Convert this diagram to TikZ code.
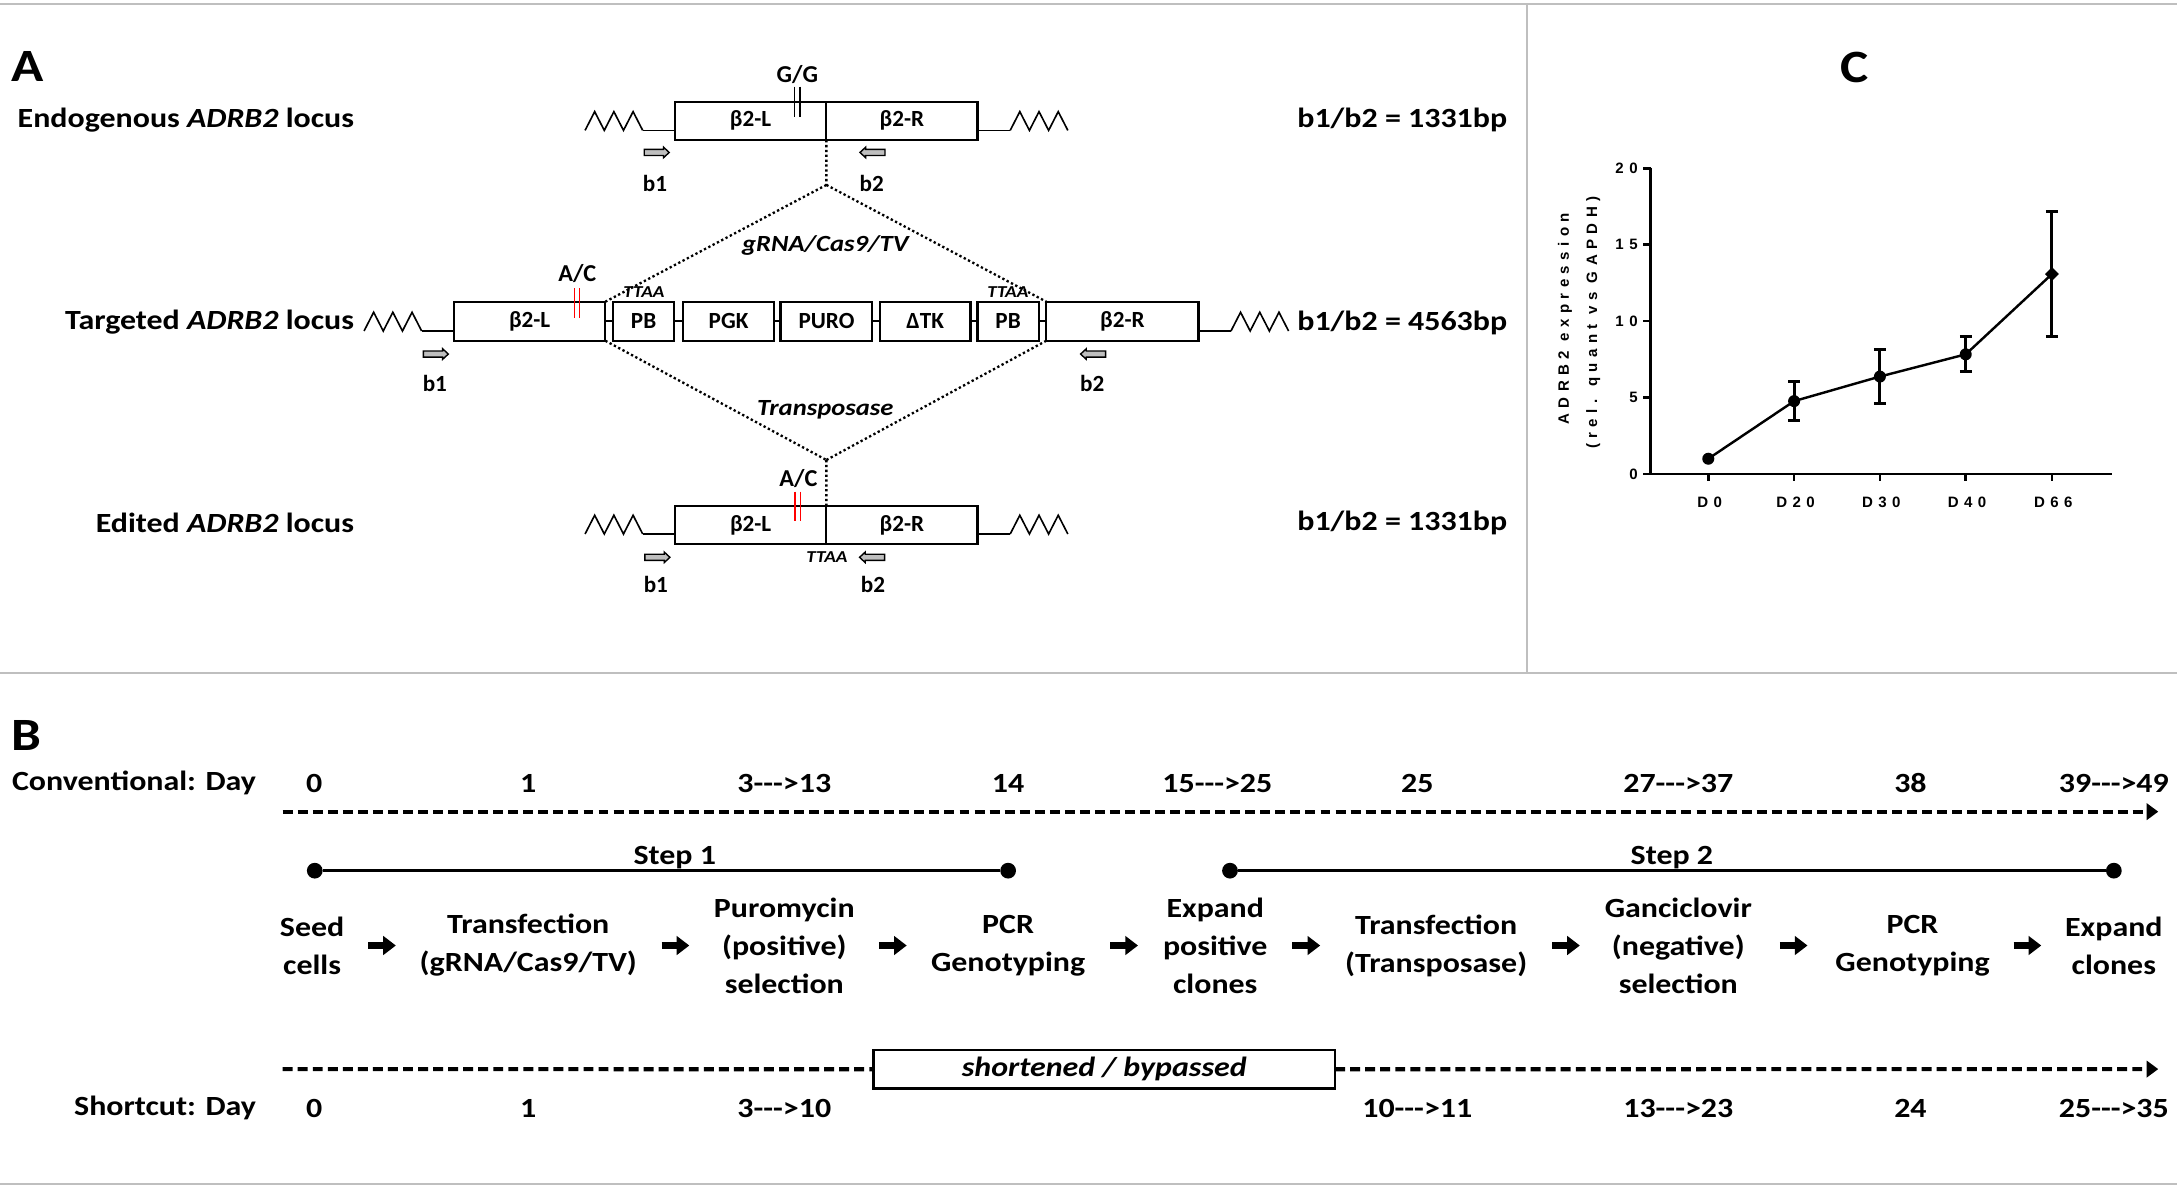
\documentclass[tikz,border=0pt]{standalone}
\usepackage{fontspec}
\setmainfont{Carlito}[FakeStretch=1.15]
\newfontfamily\boxfont{Carlito}
\newfontfamily\plotfont{Liberation Sans}[LetterSpace=36]
\usetikzlibrary{arrows.meta,calc,shapes.geometric}
\newcommand{\geneBox}[6]{\node[gb, minimum width={(#4-#2)*0.6pt}, minimum height={(#5-#3)*0.6pt}] (#1) at ({(#2+#4)/2},{(#3+#5)/2}) {#6};}
\tikzset{
  zig/.pic={\draw[line width=0.7pt, line join=miter] (0,0) -- (6.92,-13.5) -- (13.83,0) -- (20.75,-13.5) -- (27.67,0) -- (34.58,-13.5) -- (41.5,0);},
  primr/.pic={\draw[line width=0.6pt, fill=gray!50] (-9,-2.2) -- (4.9,-2.2) -- (4.9,-3.8) -- (9,0) -- (4.9,3.8) -- (4.9,2.2) -- (-9,2.2) -- cycle;},
  priml/.pic={\draw[line width=0.6pt, fill=gray!50] (9,-2.2) -- (-4.9,-2.2) -- (-4.9,-3.8) -- (-9,0) -- (-4.9,3.8) -- (-4.9,2.2) -- (9,2.2) -- cycle;}
}
\begin{document}
\begin{tikzpicture}[x=0.6pt,y=-0.6pt,
  every node/.style={inner sep=0pt, outer sep=0pt},
  lbl/.style={font=\bfseries\fontsize{12}{16.4}\selectfont, align=center},
  big/.style={font=\bfseries\fontsize{20}{24}\selectfont},
  gb/.style={draw, line width=0.95pt, font=\boxfont\bfseries\fontsize{10}{11}\selectfont},
  sm/.style={font=\boxfont\bfseries\fontsize{10}{11}\selectfont},
  snp/.style={font=\boxfont\bfseries\fontsize{10.5}{12}\selectfont},
  ttaa/.style={font=\bfseries\itshape\fontsize{7.2}{8}\selectfont},
  enz/.style={font=\bfseries\itshape\fontsize{10}{12}\selectfont},
  thinl/.style={line width=0.75pt},
  dots/.style={line width=1pt, dash pattern=on 1pt off 1.1pt},
  frame/.style={draw=gray!50, line width=1pt},
  dasharr/.style={line width=1.8pt, dash pattern=on 4.3pt off 2.2pt},
  parrow/.style={line width=3pt, -{Triangle[length=5.5pt,width=8pt]}},
  stepdot/.style={circle, fill=black, minimum size=6.8pt},
  plotlbl/.style={font=\plotfont\bfseries\fontsize{6.5}{7.5}\selectfont},
  axisl/.style={line width=1.15pt},
  mk/.style={circle, fill=black, minimum size=5.2pt},
  mkd/.style={diamond, fill=black, minimum size=6pt},
]
\useasboundingbox (0,0) rectangle (1568,856);
% frame lines
\draw[frame] (0,3.1) -- (1568,3.1);
\draw[frame] (0,484.7) -- (1568,484.7);
\draw[frame] (0,853) -- (1568,853);
\draw[frame] (1099.6,3.1) -- (1099.6,484.7);

% ---------------- Panel A ----------------
\node[big] (labA) at (20,48) {A};
\node[lbl, anchor=east] (endoL) at (255,86.4) {Endogenous \textit{ADRB2} locus};
\node[lbl, anchor=east] (targL) at (255,231.7) {Targeted \textit{ADRB2} locus};
\node[lbl, anchor=east] (editL) at (255,376.5) {Edited \textit{ADRB2} locus};
\node[lbl, anchor=east] (endoS) at (1085.5,86.4) {b1/b2 = 1331bp};
\node[lbl, anchor=east] (targS) at (1085.5,232.9) {b1/b2 = 4563bp};
\node[lbl, anchor=east] (editS) at (1085.5,376.5) {b1/b2 = 1331bp};

% endogenous
\geneBox{eL}{486}{73.2}{595.2}{100.9}{β2-L}
\geneBox{eR}{595.2}{73.2}{704}{100.9}{β2-R}
\pic at (421.4,93.9) {zig};
\coordinate (e1) at (462.9,93.9);
\draw[thinl] (e1) -- (e1 -| eL.west);
\coordinate (e2) at (727.6,93.9);
\draw[thinl] (e2 -| eR.east) -- (e2);
\pic at (727.6,93.9) {zig};
\node[snp] (gg) at (574.3,54) {G/G};
\draw[line width=0.6pt] (572.4,62.4) -- (572.4,84);
\draw[line width=0.6pt] (576.2,62.4) -- (576.2,84);
\pic at (473,109.8) {primr};
\pic at (628.4,109.8) {priml};
\node[sm] (eb1) at (471.8,132) {b1};
\node[sm] (eb2) at (627.8,132) {b2};

% targeted
\geneBox{tL}{326.9}{217.3}{436}{245.4}{β2-L}
\geneBox{tPBa}{441.4}{217.3}{485.7}{245.4}{PB}
\geneBox{tPGK}{491.9}{217.3}{557.6}{245.4}{PGK}
\geneBox{tPURO}{562.2}{217.3}{628.3}{245.4}{PURO}
\geneBox{tTK}{633.7}{217.3}{699}{245.4}{ΔTK}
\geneBox{tPBb}{704}{217.3}{748.2}{245.4}{PB}
\geneBox{tR}{753.6}{217.3}{863.2}{245.4}{β2-R}
\draw[thinl] (tL.east) -- (tPBa.west);
\draw[thinl] (tPBa.east) -- (tPGK.west);
\draw[thinl] (tPGK.east) -- (tPURO.west);
\draw[thinl] (tPURO.east) -- (tTK.west);
\draw[thinl] (tTK.east) -- (tPBb.west);
\draw[thinl] (tPBb.east) -- (tR.west);
\pic at (262.2,238.4) {zig};
\coordinate (t1) at (303.7,238.4);
\draw[thinl] (t1) -- (t1 -| tL.west);
\coordinate (t2) at (886.6,238.4);
\draw[thinl] (t2 -| tR.east) -- (t2);
\pic at (886.6,238.4) {zig};
\node[snp] (ac1) at (415.8,196.9) {A/C};
\draw[red, line width=0.75pt] (413.7,207.7) -- (413.7,228.8);
\draw[red, line width=0.75pt] (417.3,207.7) -- (417.3,228.8);
\node[ttaa] (tt1) at (463.8,210.1) {TTAA};
\node[ttaa] (tt2) at (725.9,210.1) {TTAA};
\pic at (313.9,255) {primr};
\pic at (787.3,255) {priml};
\node[sm] (tb1) at (313.2,276.1) {b1};
\node[sm] (tb2) at (786.7,276.1) {b2};

% edited
\geneBox{dL}{486.1}{364.5}{595.2}{391.8}{β2-L}
\geneBox{dR}{595.2}{364.5}{704}{391.8}{β2-R}
\pic at (421.4,384.6) {zig};
\coordinate (d1) at (462.9,384.6);
\draw[thinl] (d1) -- (d1 -| dL.west);
\coordinate (d2) at (727.6,384.6);
\draw[thinl] (d2 -| dR.east) -- (d2);
\pic at (727.6,384.6) {zig};
\node[snp] (ac2) at (575,344.5) {A/C};
\draw[red, line width=0.75pt] (572.5,354.1) -- (572.5,375);
\draw[red, line width=0.75pt] (576.6,354.1) -- (576.6,375);
\node[ttaa] (tt3) at (595.6,401) {TTAA};
\pic at (473.5,401.4) {primr};
\pic at (628.1,401.4) {priml};
\node[sm] (db1) at (472.4,421.3) {b1};
\node[sm] (db2) at (628.7,421.3) {b2};

% dotted connections
\coordinate (apx1) at (595.2,133.2);
\coordinate (apx2) at (595.2,331.3);
\draw[dots] (eL.south east) -- (apx1);
\draw[dots] (apx1) -- (tL.north east);
\draw[dots] (apx1) -- (tR.north west);
\draw[dots] (tL.south east) -- (apx2);
\draw[dots] (tR.south west) -- (apx2);
\draw[dots] (apx2) -- (dL.north east);
\node[enz] (grna) at (594.4,176.5) {gRNA/Cas9/TV};
\node[enz] (tpase) at (594.4,295.3) {Transposase};

% ---------------- Panel C ----------------
\node[big] (labC) at (1335.5,48.4) {C};
\draw[axisl] (1188.8,120.8) -- (1188.8,341.4) -- (1521,341.4);
\foreach \v in {0,5,10,15,20} {
  \draw[axisl] (1183.5,{341.4-11.01*\v}) -- (1188.8,{341.4-11.01*\v});
  \node[plotlbl, anchor=east] (yt\v) at (1179.5,{341.4-11.01*\v}) {\v};
}
\foreach \x/\t in {1230.4/D0,1292.2/D20,1354/D30,1415.8/D40,1477.9/D66} {
  \draw[axisl] (\x,341.4) -- (\x,346.7);
  \node[plotlbl] (xt\t) at (\x+1,361.7) {\t};
}
\node[plotlbl, rotate=90] (ytitA) at (1127.2,229.5) {ADRB2 expression};
\node[plotlbl, rotate=90] (ytitB) at (1147.6,232.5) {(rel. quant vs GAPDH)};
% error bars
\foreach \x/\hi/\lo in {1292.2/274.9/303, 1354/251.4/290.5, 1415.8/242.1/267.6, 1477.9/152.5/242.1} {
  \draw[line width=1.3pt] (\x,\hi) -- (\x,\lo);
  \draw[line width=1.3pt] (\x-4.3,\hi) -- (\x+4.3,\hi);
  \draw[line width=1.3pt] (\x-4.3,\lo) -- (\x+4.3,\lo);
}
\node[mk] (p0) at (1230.4,330.4) {};
\node[mk] (p20) at (1292.2,288.9) {};
\node[mk] (p30) at (1354,271.2) {};
\node[mk] (p40) at (1415.8,255.2) {};
\node[mkd] (p66) at (1477.9,197.4) {};
\draw[line width=1.05pt, line join=round] (p0.center) -- (p20.center) -- (p30.center) -- (p40.center) -- (p66.center);

% ---------------- Panel B ----------------
\node[big] (labB) at (19.2,529.4) {B};
\node[lbl, anchor=east] (convL) at (184.4,564.2) {Conventional: Day};
\node[lbl, anchor=east] (shortL) at (184.4,798.3) {Shortcut: Day};
\node[lbl] (cd1) at (226.4,564.2) {0};
\node[lbl] (cd2) at (380.5,564.2) {1};
\node[lbl] (cd3) at (564.9,564.2) {3-{}-{}->13};
\node[lbl] (cd4) at (726.1,564.2) {14};
\node[lbl] (cd5) at (876.8,564.2) {15-{}-{}->25};
\node[lbl] (cd6) at (1020.8,564.2) {25};
\node[lbl] (cd7) at (1208.8,564.2) {27-{}-{}->37};
\node[lbl] (cd8) at (1376,564.2) {38};
\node[lbl] (cd9) at (1522.5,564.2) {39-{}-{}->49};
\node[lbl] (sd1) at (226.4,798.3) {0};
\node[lbl] (sd2) at (380.5,798.3) {1};
\node[lbl] (sd3) at (564.9,798.3) {3-{}-{}->10};
\node[lbl] (sd4) at (1020.8,798.3) {10-{}-{}->11};
\node[lbl] (sd5) at (1208.8,798.3) {13-{}-{}->23};
\node[lbl] (sd6) at (1376,798.3) {24};
\node[lbl] (sd7) at (1522.5,798.3) {25-{}-{}->35};

\coordinate (c0) at (203.6,584.6);
\coordinate (c1) at (1554.5,584.6);
\draw[dasharr, -{Triangle[length=5pt,width=7pt]}] (c0) -- (c1);

\node[stepdot] (s1a) at (226.7,627.1) {};
\node[stepdot] (s1b) at (726.1,627.1) {};
\node[stepdot] (s2a) at (885.9,627.1) {};
\node[stepdot] (s2b) at (1522.5,627.1) {};
\draw[line width=1.05pt] (s1a) -- (s1b);
\draw[line width=1.05pt] (s2a) -- (s2b);
\node[lbl] (st1) at (486,617.5) {Step 1};
\node[lbl] (st2) at (1204.2,617.5) {Step 2};

\node[lbl] (seed) at (224.8,681) {Seed\\cells};
\node[lbl] (tr1) at (380.5,681) {Transfection\\(gRNA/Cas9/TV)};
\node[lbl] (puro) at (564.9,681) {Puromycin\\(positive)\\selection};
\node[lbl] (pcr1) at (726.1,681) {PCR\\Genotyping};
\node[lbl] (exp1) at (875.3,681) {Expand\\positive\\clones};
\node[lbl] (tr2) at (1034.4,681) {Transfection\\(Transposase)};
\node[lbl] (ganc) at (1208.8,681) {Ganciclovir\\(negative)\\selection};
\node[lbl] (pcr2) at (1377.5,681) {PCR\\Genotyping};
\node[lbl] (exp2) at (1522.5,681) {Expand\\clones};
\foreach \a/\b in {seed/tr1,tr1/puro,puro/pcr1,pcr1/exp1,exp1/tr2,tr2/ganc,ganc/pcr2,pcr2/exp2} {
  \draw[parrow] ($(\a.east)!0.5!(\b.west)+(-10,0)$) -- ++(20,0);
}

\coordinate (s0) at (203.6,770);
\coordinate (s1) at (1554.5,770);
\node[draw, line width=1.1pt, minimum width={332.5*0.6pt}, minimum height={27.6*0.6pt}, font=\bfseries\itshape\fontsize{12}{14}\selectfont] (sb) at (795.35,770.1) {shortened / bypassed};
\draw[dasharr] (s0) -- (sb.west);
\draw[dasharr, -{Triangle[length=5pt,width=7pt]}] (sb.east) -- (s1);
\end{tikzpicture}
\end{document}
